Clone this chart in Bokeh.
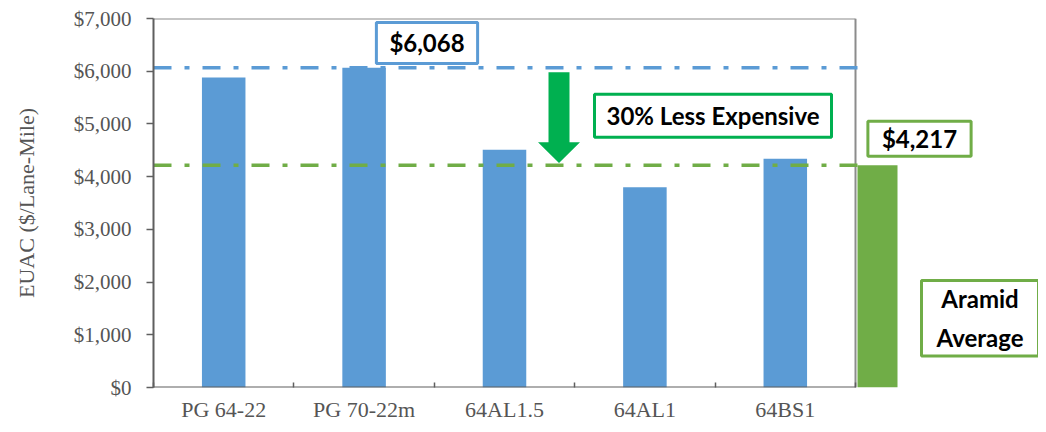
from bokeh.plotting import figure
from bokeh.models import Range1d, FixedTicker, NumeralTickFormatter, Label
from bokeh.embed import file_html
from bokeh.resources import INLINE

# ---- data ----
categories = ["PG 64-22", "PG 70-22m", "64AL1.5", "64AL1", "64BS1"]
euac = [5880, 6068, 4510, 3800, 4340]
control_max = 6068          # blue reference line
aramid_avg = 4217           # green reference line / Aramid average bar
y_ticks = [0, 1000, 2000, 3000, 4000, 5000, 6000, 7000]
reduction_text = "30% Less Expensive"
avg_label = "Aramid\nAverage"

BLUE = "#5B9BD5"
GREEN = "#70AD47"
ARROW_GREEN = "#00B050"
AXIS_GRAY = "#5f5f5f"
TEXT_GRAY = "#555555"

# ---- layout helpers (pixel -> data, for annotations) ----
FRAME_L, FRAME_B, FRAME_T = 153.0, 388.0, 18.0
BAND = 140.4
YMAX = 7000
W, H = 1038, 424
XSPAN = (W - FRAME_L) / BAND


def px2x(px):
    return 0.5 + (px - FRAME_L) / BAND


def px2y(py):
    return (FRAME_B - py) * YMAX / (FRAME_B - FRAME_T)


n = len(categories)
xs = list(range(1, n + 1))

p = figure(width=W, height=H, x_range=Range1d(0.5, 0.5 + XSPAN), y_range=Range1d(0, YMAX),
           output_backend="svg", toolbar_location=None,
           min_border_left=int(FRAME_L), min_border_right=0,
           min_border_top=int(FRAME_T), min_border_bottom=int(H - FRAME_B))
p.outline_line_color = None
p.grid.visible = False
p.background_fill_color = "white"
p.border_fill_color = "white"

# bars
p.vbar(x=xs, top=euac, width=0.31, fill_color=BLUE, line_color=None)

# Aramid average bar, outside the frame
avg_x = px2x(877)
p.vbar(x=[avg_x], top=[aramid_avg], width=40 / BAND, fill_color=GREEN, line_color=None)

# frame lines (top, right, bottom)
p.segment(x0=[0.5, n + 0.5], y0=[YMAX, 0], x1=[n + 0.5, n + 0.5], y1=[YMAX, YMAX],
          line_color="#8c8c8c", line_width=2)
p.segment(x0=[0.5], y0=[0], x1=[n + 0.5], y1=[0], line_color=AXIS_GRAY, line_width=2)

# reference lines
line_end = n + 0.52
p.segment(x0=[0.5], y0=[control_max], x1=[line_end], y1=[control_max],
          line_color=BLUE, line_width=3.5, line_dash="18 13 5 13")
p.segment(x0=[0.5], y0=[aramid_avg], x1=[line_end], y1=[aramid_avg],
          line_color=GREEN, line_width=3.5, line_dash="18 13 5 13")

# arrow (down from control to aramid average)
ax = px2x(558.5)
sw = 10.5 / BAND
hw = 21 / BAND
a_top = control_max - 90
a_tip = aramid_avg + 40
a_base = a_tip + px2y(142) - px2y(163)
p.patch(x=[ax - sw, ax + sw, ax + sw, ax + hw, ax, ax - hw, ax - sw],
        y=[a_top, a_top, a_base, a_base, a_tip, a_base, a_base],
        fill_color=ARROW_GREEN, line_color=None)

# axes
xa = p.xaxis[0]
xa.ticker = FixedTicker(ticks=xs, minor_ticks=[i + 0.5 for i in range(n + 1)])
xa.major_label_overrides = {x: c for x, c in zip(xs, categories)}
xa.axis_line_color = None
xa.major_tick_in = 0
xa.major_tick_out = 0
xa.minor_tick_in = 5
xa.minor_tick_out = 0
xa.minor_tick_line_color = AXIS_GRAY
xa.minor_tick_line_width = 1.5
xa.major_label_text_font = "Liberation Serif"
xa.major_label_text_font_size = "22px"
xa.major_label_text_color = TEXT_GRAY
xa.major_label_standoff = 9

ya = p.yaxis[0]
ya.ticker = FixedTicker(ticks=y_ticks)
ya.formatter = NumeralTickFormatter(format="$0,0")
ya.axis_line_color = AXIS_GRAY
ya.axis_line_width = 2
ya.major_tick_in = 0
ya.major_tick_out = 7
ya.major_tick_line_color = AXIS_GRAY
ya.major_tick_line_width = 1.5
ya.minor_tick_line_color = None
ya.major_label_text_font = "Liberation Serif"
ya.major_label_text_font_size = "21px"
ya.major_label_text_color = TEXT_GRAY
ya.major_label_standoff = 15
ya.axis_label = "EUAC ($/Lane-Mile)"
ya.axis_label_text_font = "Liberation Serif"
ya.axis_label_text_font_size = "22px"
ya.axis_label_text_font_style = "normal"
ya.axis_label_text_color = TEXT_GRAY
ya.axis_label_standoff = 32


def box_label(text, cx, cy, color, ph, pv, lh=1.2):
    lab = Label(x=px2x(cx), y=px2y(cy), text=text, text_align="center", text_baseline="middle",
                text_font="Lato", text_font_style="bold", text_font_size="24px",
                text_color="black", text_line_height=lh,
                border_line_color=color, border_line_width=3,
                background_fill_color="white", background_fill_alpha=1.0,
                padding=dict(left=ph, right=ph, top=pv, bottom=pv))
    p.add_layout(lab)


box_label(f"${control_max:,}", 426.5, 42.5, BLUE, 13, 6)
box_label(reduction_text, 712.5, 115.5, ARROW_GREEN, 12, 7)
box_label(f"${aramid_avg:,}", 919, 138.5, GREEN, 14, 3)
box_label(avg_label, 979.5, 318.5, GREEN, 15, 4, lh=1.33)

open("out.html", "w").write(file_html(p, INLINE))
